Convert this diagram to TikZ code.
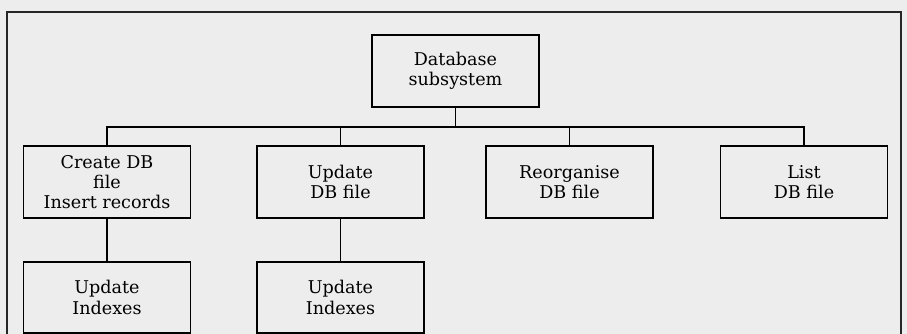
\documentclass[tikz,border=0pt]{standalone}
\usepackage{fontspec}
\setmainfont{DejaVu Serif}
\usepackage{tikz}
\usetikzlibrary{positioning}

\begin{document}
\begin{tikzpicture}[x=0.025cm,y=-0.025cm,line width=1pt,
  box/.style={draw,minimum width=167*0.025cm,minimum height=72*0.025cm,align=center,
    inner sep=0pt,font=\fontsize{12.5}{14.4}\selectfont}]
  \useasboundingbox[fill=black!7] (0,0) rectangle (907,334);
  \clip (0,0) rectangle (907,334);
  \draw[black!85] (7,345) -- (7,12) -- (901,12) -- (901,345);
  \node[box] (dbs) at (455.5,71) {Database\\subsystem};
  \node[box] (cre) at (107,182) {Create DB\\file\\Insert records};
  \node[box] (upd) at (340.5,182) {Update\\DB file};
  \node[box] (reo) at (569.5,182) {Reorganise\\DB file};
  \node[box] (lst) at (804,182) {List\\DB file};
  \node[box,minimum height=71*0.025cm] (idx1) at (107,297.5) {Update\\Indexes};
  \node[box,minimum height=71*0.025cm] (idx2) at (340.5,297.5) {Update\\Indexes};
  \coordinate (bus) at (455.5,127);
  \draw (dbs) -- (bus);
  \foreach \c in {cre,upd,reo,lst}
    \draw (\c.north) |- (bus);
  \draw (cre) -- (idx1);
  \draw (upd) -- (idx2);
\end{tikzpicture}
\end{document}
